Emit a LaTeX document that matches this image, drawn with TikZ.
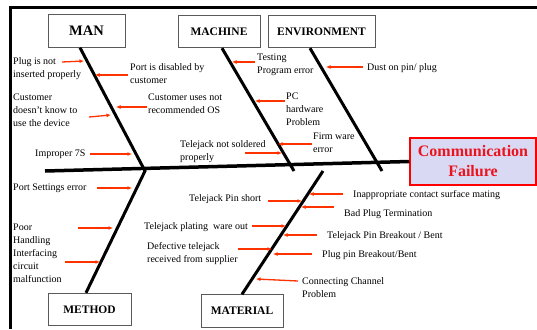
\documentclass[tikz,border=0pt]{standalone}
\usepackage{fontspec}
\setmainfont{Liberation Serif}
\usetikzlibrary{arrows.meta}
\definecolor{arrowred}{RGB}{255,51,0}
\definecolor{failred}{RGB}{235,20,30}
\definecolor{failfill}{RGB}{217,217,243}
\definecolor{boxgray}{RGB}{90,90,90}
\begin{document}
\begin{tikzpicture}[x=1pt,y=-1pt,
        bone/.style={line width=3pt,black},
        cause/.style={arrowred,line width=1.3pt,-{Latex[length=4.5pt,width=4pt]}},
        catbox/.style={draw=boxgray,line width=0.9pt,inner sep=0pt,minimum height=32.5pt,font=\fontsize{11.5}{13}\selectfont\bfseries},
        lbl/.style={anchor=north west,inner sep=0pt,align=left,font=\fontsize{10}{13}\selectfont}]
    \useasboundingbox (0,0) rectangle (537,329);
    % frame
    \draw[line width=3pt] (10,329) -- (10,8) -- (537,8);

    % categories and effect
    \node[catbox,minimum width=77pt,font=\fontsize{14.5}{16}\selectfont\bfseries] (man) at (86.5,31) {MAN};
    \node[catbox,minimum width=82pt] (machine) at (219,31.5) {MACHINE};
    \node[catbox,minimum width=107pt] (env) at (321.5,31.5) {ENVIRONMENT};
    \node[catbox,minimum width=83pt] (method) at (89.5,309.5) {METHOD};
    \node[catbox,minimum width=82pt] (material) at (242,311) {MATERIAL};
    \node[draw=red,fill=failfill,line width=1.5pt,minimum width=126pt,minimum height=47pt,
          align=center,text=failred,font=\fontsize{16}{20}\selectfont\bfseries] (fail) at (473,161.5) {Communication\\Failure};

    % spine and bones
    \coordinate (tail) at (45,171);
    \coordinate (j1) at (145,171);
    \coordinate (j2) at (294,171);
    \coordinate (j3) at (382,171);
    \coordinate (j4) at (323,171);
    \draw[line width=3.5pt] (tail) -- (fail.west);
    \draw[bone,line join=miter] ([xshift=-6.5pt]man.south) -- (j1) -- ([xshift=-3.5pt]method.north);
    \draw[bone] ([xshift=3pt]machine.south) -- (j2);
    \draw[bone] ([xshift=-11.5pt]env.south) -- (j3);
    \draw[bone] (j4) -- (material.north);

    % causes: man
    \node[lbl] (plug) at (13,57) {Plug is not\\inserted properly};
    \node[lbl] (portdis) at (130,63) {Port is disabled by\\customer};
    \node[lbl] (cust) at (13,94) {Customer\\doesn't know to\\use the device};
    \node[lbl] (custos) at (148,94) {Customer uses not\\recommended OS};
    \node[lbl] (improper) at (35,150) {Improper 7S};
    \coordinate (m1) at (62,62);   \coordinate (m1h) at (84,61);
    \coordinate (m2) at (128,75);  \coordinate (m2h) at (95,75);
    \coordinate (m3) at (89,117);  \coordinate (m3h) at (111,115);
    \coordinate (m4) at (147,107); \coordinate (m4h) at (116,107);
    \coordinate (m5) at (90,154);  \coordinate (m5h) at (132,154);
    \draw[cause] (m1) -- (m1h);
    \draw[cause] (m2) -- (m2h);
    \draw[cause] (m3) -- (m3h);
    \draw[cause] (m4) -- (m4h);
    \draw[cause] (m5) -- (m5h);

    % causes: machine and environment
    \node[lbl] (testing) at (257,54) {Testing\\Program error};
    \node[lbl] (pchw) at (286,93) {PC\\hardware\\Problem};
    \node[lbl] (firm) at (313,133) {Firm ware\\error};
    \node[lbl] (solder) at (180,140) {Telejack not soldered\\properly};
    \node[lbl] (dust) at (367,63) {Dust on pin/ plug};
    \coordinate (c1) at (255,62);  \coordinate (c1h) at (232,62);
    \coordinate (c2) at (285,101); \coordinate (c2h) at (255,101);
    \coordinate (c3) at (312,144); \coordinate (c3h) at (278,144);
    \coordinate (c4) at (245,153); \coordinate (c4h) at (282,153);
    \coordinate (e1) at (363,67);  \coordinate (e1h) at (326,67);
    \draw[cause] (c1) -- (c1h);
    \draw[cause] (c2) -- (c2h);
    \draw[cause] (c3) -- (c3h);
    \draw[cause] (c4) -- (c4h);
    \draw[cause] (e1) -- (e1h);

    % causes: method
    \node[lbl] (settings) at (13,184) {Port Settings error};
    \node[lbl] (poor) at (13,224) {Poor\\Handling\\Interfacing\\circuit\\malfunction};
    \coordinate (t1) at (97,188);  \coordinate (t1h) at (132,188);
    \coordinate (t2) at (78,228);  \coordinate (t2h) at (113,228);
    \coordinate (t3) at (65,262);  \coordinate (t3h) at (100,262);
    \draw[cause] (t1) -- (t1h);
    \draw[cause] (t2) -- (t2h);
    \draw[cause] (t3) -- (t3h);

    % causes: material
    \node[lbl] (pinshort) at (189,194) {Telejack Pin short};
    \node[lbl] (plating) at (144,222) {Telejack plating\ \ ware out};
    \node[lbl] (defect) at (147,242) {Defective telejack\\received from supplier};
    \node[lbl] (contact) at (353,190) {Inappropriate contact surface mating};
    \node[lbl] (badplug) at (344,209) {Bad Plug Termination};
    \node[lbl] (tjbent) at (327,231) {Telejack Pin Breakout / Bent};
    \node[lbl] (plugbent) at (322,250) {Plug pin Breakout/Bent};
    \node[lbl] (channel) at (302,277) {Connecting Channel\\Problem};
    \coordinate (r1) at (268,201); \coordinate (r1h) at (302,201);
    \coordinate (r2) at (252,226); \coordinate (r2h) at (286,226);
    \coordinate (r3) at (238,249); \coordinate (r3h) at (272,249);
    \coordinate (r4) at (343,194); \coordinate (r4h) at (309,194);
    \coordinate (r5) at (334,207); \coordinate (r5h) at (301,207);
    \coordinate (r6) at (317,235); \coordinate (r6h) at (283,235);
    \coordinate (r7) at (312,254); \coordinate (r7h) at (273,254);
    \coordinate (r8) at (298,281); \coordinate (r8h) at (256,279);
    \draw[cause] (r1) -- (r1h);
    \draw[cause] (r2) -- (r2h);
    \draw[cause] (r3) -- (r3h);
    \draw[cause] (r4) -- (r4h);
    \draw[cause] (r5) -- (r5h);
    \draw[cause] (r6) -- (r6h);
    \draw[cause] (r7) -- (r7h);
    \draw[cause] (r8) -- (r8h);
\end{tikzpicture}
\end{document}
